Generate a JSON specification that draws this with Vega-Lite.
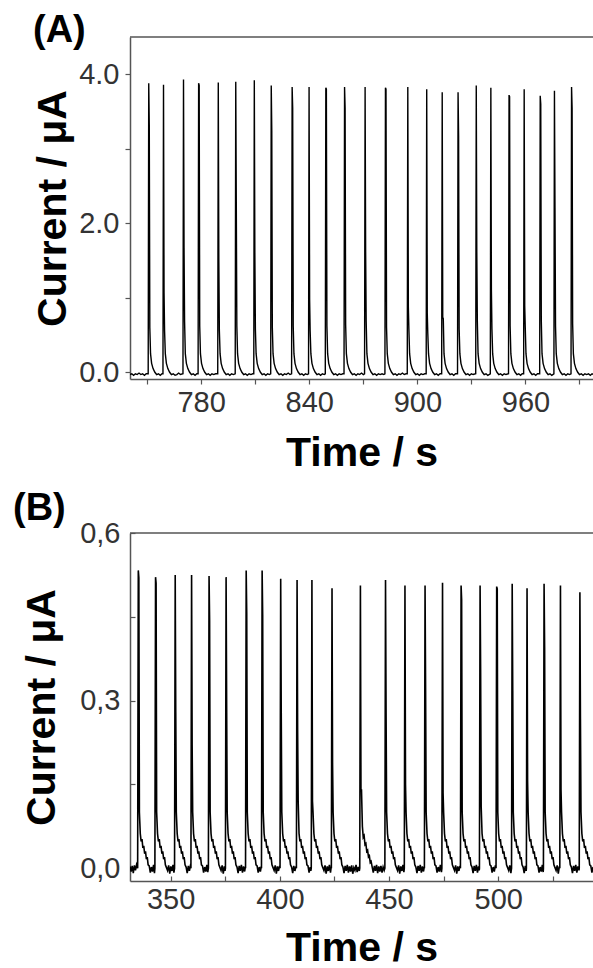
{
  "$schema": "https://vega.github.io/schema/vega-lite/v6.json",
  "padding": {"left": 13, "top": 12, "right": 0, "bottom": 2},
  "spacing": 17,
  "config": {
    "view": {"stroke": null},
    "font": "Liberation Sans",
    "axis": {
      "grid": false,
      "domainColor": "#555",
      "domainWidth": 1.5,
      "tickColor": "#555",
      "tickWidth": 1.2,
      "labelFont": "Liberation Sans",
      "labelFontSize": 29,
      "labelColor": "#333",
      "labelFlush": false,
      "labelOverlap": false,
      "titleFont": "Liberation Sans",
      "titleFontSize": 41,
      "titleFontWeight": "bold",
      "titleColor": "#000"
    },
    "title": {"font": "Liberation Sans", "fontSize": 38, "fontWeight": "bold", "color": "#000"}
  },
  "datasets": {
    "a": [
      {"t":740.6,"i":-0.03},{"t":741.5,"i":-0.02},{"t":742.5,"i":-0.04},{"t":743.5,"i":-0.02},{"t":744.5,"i":-0.03},{"t":745.5,"i":-0.01},{"t":746.5,"i":-0.03},{"t":747.5,"i":-0.02},{"t":748.5,"i":-0.04},{"t":749.5,"i":-0.02},{"t":750.6,"i":-0.02},
      {"t":750.9,"i":3.88},{"t":751.2,"i":3.32},{"t":751.5,"i":0.60},{"t":751.9,"i":0.25},{"t":752.5,"i":0.12},{"t":753.3,"i":0.05},{"t":754.3,"i":0.0},{"t":755.3,"i":-0.03},{"t":756.3,"i":-0.02},{"t":757.3,"i":-0.04},{"t":758.3,"i":-0.02},{"t":758.8,"i":-0.02},
      {"t":759.1,"i":3.86},{"t":759.4,"i":1.07},{"t":759.7,"i":0.55},{"t":760.1,"i":0.25},{"t":760.7,"i":0.12},{"t":761.5,"i":0.05},{"t":762.5,"i":0.0},{"t":763.5,"i":-0.03},{"t":764.5,"i":-0.02},{"t":765.5,"i":-0.04},{"t":766.5,"i":-0.03},{"t":767.5,"i":-0.01},{"t":768.5,"i":-0.03},{"t":769.9,"i":-0.02},
      {"t":770.2,"i":3.93},{"t":770.5,"i":1.67},{"t":770.8,"i":0.68},{"t":771.2,"i":0.25},{"t":771.8,"i":0.12},{"t":772.6,"i":0.05},{"t":773.6,"i":0.0},{"t":774.6,"i":-0.03},{"t":775.6,"i":-0.02},{"t":776.6,"i":-0.04},{"t":777.6,"i":-0.02},{"t":778.3,"i":-0.02},
      {"t":778.6,"i":3.88},{"t":778.9,"i":3.85},{"t":779.2,"i":0.62},{"t":779.6,"i":0.25},{"t":780.2,"i":0.12},{"t":781.0,"i":0.05},{"t":782.0,"i":0.0},{"t":783.0,"i":-0.03},{"t":784.0,"i":-0.02},{"t":785.0,"i":-0.04},{"t":786.0,"i":-0.02},{"t":787.0,"i":-0.03},{"t":788.0,"i":-0.02},{"t":789.2,"i":-0.02},
      {"t":789.5,"i":3.89},{"t":789.8,"i":1.52},{"t":790.1,"i":0.56},{"t":790.5,"i":0.25},{"t":791.1,"i":0.12},{"t":791.9,"i":0.05},{"t":792.9,"i":0.0},{"t":793.9,"i":-0.03},{"t":794.9,"i":-0.02},{"t":795.9,"i":-0.04},{"t":796.9,"i":-0.02},{"t":797.9,"i":-0.03},{"t":798.9,"i":-0.02},
      {"t":799.2,"i":3.90},{"t":799.5,"i":2.28},{"t":799.8,"i":0.62},{"t":800.2,"i":0.25},{"t":800.8,"i":0.12},{"t":801.6,"i":0.05},{"t":802.6,"i":0.0},{"t":803.6,"i":-0.03},{"t":804.6,"i":-0.02},{"t":805.6,"i":-0.04},{"t":806.6,"i":-0.02},{"t":807.6,"i":-0.03},{"t":808.6,"i":-0.02},{"t":809.2,"i":-0.02},
      {"t":809.5,"i":3.92},{"t":809.8,"i":1.60},{"t":810.1,"i":0.58},{"t":810.5,"i":0.25},{"t":811.1,"i":0.12},{"t":811.9,"i":0.05},{"t":812.9,"i":0.0},{"t":813.9,"i":-0.03},{"t":814.9,"i":-0.02},{"t":815.9,"i":-0.04},{"t":816.9,"i":-0.02},{"t":817.9,"i":-0.03},{"t":818.6,"i":-0.02},
      {"t":818.9,"i":3.85},{"t":819.2,"i":3.24},{"t":819.5,"i":0.60},{"t":819.9,"i":0.25},{"t":820.5,"i":0.12},{"t":821.3,"i":0.05},{"t":822.3,"i":0.0},{"t":823.3,"i":-0.03},{"t":824.3,"i":-0.02},{"t":825.3,"i":-0.04},{"t":826.3,"i":-0.02},{"t":827.3,"i":-0.03},{"t":828.3,"i":-0.01},{"t":829.3,"i":-0.03},{"t":830.2,"i":-0.02},
      {"t":830.5,"i":3.83},{"t":830.8,"i":3.55},{"t":831.1,"i":0.62},{"t":831.5,"i":0.25},{"t":832.1,"i":0.12},{"t":832.9,"i":0.05},{"t":833.9,"i":0.0},{"t":834.9,"i":-0.03},{"t":835.9,"i":-0.02},{"t":836.9,"i":-0.04},{"t":837.9,"i":-0.02},{"t":838.9,"i":-0.03},{"t":839.6,"i":-0.02},
      {"t":839.9,"i":3.83},{"t":840.2,"i":0.98},{"t":840.5,"i":0.55},{"t":840.9,"i":0.25},{"t":841.5,"i":0.12},{"t":842.3,"i":0.05},{"t":843.3,"i":0.0},{"t":844.3,"i":-0.03},{"t":845.3,"i":-0.02},{"t":846.3,"i":-0.04},{"t":847.3,"i":-0.02},{"t":848.3,"i":-0.03},{"t":848.9,"i":-0.02},
      {"t":849.2,"i":3.82},{"t":849.5,"i":3.80},{"t":849.8,"i":0.62},{"t":850.2,"i":0.25},{"t":850.8,"i":0.12},{"t":851.6,"i":0.05},{"t":852.6,"i":0.0},{"t":853.6,"i":-0.03},{"t":854.6,"i":-0.02},{"t":855.6,"i":-0.04},{"t":856.6,"i":-0.02},{"t":857.6,"i":-0.03},{"t":858.6,"i":-0.02},{"t":859.3,"i":-0.02},
      {"t":859.6,"i":3.83},{"t":859.9,"i":3.55},{"t":860.2,"i":0.64},{"t":860.6,"i":0.25},{"t":861.2,"i":0.12},{"t":862.0,"i":0.05},{"t":863.0,"i":0.0},{"t":864.0,"i":-0.03},{"t":865.0,"i":-0.02},{"t":866.0,"i":-0.04},{"t":867.0,"i":-0.02},{"t":868.0,"i":-0.03},{"t":869.0,"i":-0.01},{"t":870.0,"i":-0.03},{"t":870.7,"i":-0.02},
      {"t":871.0,"i":3.83},{"t":871.3,"i":1.61},{"t":871.6,"i":0.68},{"t":872.0,"i":0.25},{"t":872.6,"i":0.12},{"t":873.4,"i":0.05},{"t":874.4,"i":0.0},{"t":875.4,"i":-0.03},{"t":876.4,"i":-0.02},{"t":877.4,"i":-0.04},{"t":878.4,"i":-0.02},{"t":879.4,"i":-0.03},{"t":880.4,"i":-0.02},{"t":881.4,"i":-0.03},{"t":882.0,"i":-0.02},
      {"t":882.3,"i":3.82},{"t":882.6,"i":3.80},{"t":882.9,"i":0.60},{"t":883.3,"i":0.25},{"t":883.9,"i":0.12},{"t":884.7,"i":0.05},{"t":885.7,"i":0.0},{"t":886.7,"i":-0.03},{"t":887.7,"i":-0.02},{"t":888.7,"i":-0.04},{"t":889.7,"i":-0.02},{"t":890.7,"i":-0.03},{"t":891.7,"i":-0.01},{"t":892.7,"i":-0.03},{"t":893.7,"i":-0.02},{"t":894.4,"i":-0.02},
      {"t":894.7,"i":3.83},{"t":895.0,"i":0.88},{"t":895.3,"i":0.58},{"t":895.7,"i":0.25},{"t":896.3,"i":0.12},{"t":897.1,"i":0.05},{"t":898.1,"i":0.0},{"t":899.1,"i":-0.03},{"t":900.1,"i":-0.02},{"t":901.1,"i":-0.04},{"t":902.1,"i":-0.02},{"t":903.1,"i":-0.03},{"t":904.1,"i":-0.02},{"t":904.9,"i":-0.02},
      {"t":905.2,"i":3.80},{"t":905.5,"i":0.80},{"t":905.8,"i":0.52},{"t":906.2,"i":0.25},{"t":906.8,"i":0.12},{"t":907.6,"i":0.05},{"t":908.6,"i":0.0},{"t":909.6,"i":-0.03},{"t":910.6,"i":-0.02},{"t":911.6,"i":-0.04},{"t":912.6,"i":-0.02},{"t":913.5,"i":-0.02},
      {"t":913.8,"i":3.76},{"t":914.1,"i":0.74},{"t":914.4,"i":0.72},{"t":914.8,"i":0.25},{"t":915.4,"i":0.12},{"t":916.2,"i":0.05},{"t":917.2,"i":0.0},{"t":918.2,"i":-0.03},{"t":919.2,"i":-0.02},{"t":920.2,"i":-0.04},{"t":921.2,"i":-0.02},{"t":922.3,"i":-0.02},
      {"t":922.6,"i":3.76},{"t":922.9,"i":3.17},{"t":923.2,"i":0.58},{"t":923.6,"i":0.25},{"t":924.2,"i":0.12},{"t":925.0,"i":0.05},{"t":926.0,"i":0.0},{"t":927.0,"i":-0.03},{"t":928.0,"i":-0.02},{"t":929.0,"i":-0.04},{"t":930.0,"i":-0.02},{"t":931.0,"i":-0.03},{"t":932.4,"i":-0.02},
      {"t":932.7,"i":3.85},{"t":933.0,"i":1.61},{"t":933.3,"i":0.68},{"t":933.7,"i":0.25},{"t":934.3,"i":0.12},{"t":935.1,"i":0.05},{"t":936.1,"i":0.0},{"t":937.1,"i":-0.03},{"t":938.1,"i":-0.02},{"t":939.1,"i":-0.04},{"t":940.5,"i":-0.02},
      {"t":940.8,"i":3.82},{"t":941.1,"i":1.11},{"t":941.4,"i":0.58},{"t":941.8,"i":0.25},{"t":942.4,"i":0.12},{"t":943.2,"i":0.05},{"t":944.2,"i":0.0},{"t":945.2,"i":-0.03},{"t":946.2,"i":-0.02},{"t":947.2,"i":-0.04},{"t":948.2,"i":-0.02},{"t":949.2,"i":-0.03},{"t":950.6,"i":-0.02},
      {"t":950.9,"i":3.72},{"t":951.2,"i":3.70},{"t":951.5,"i":0.62},{"t":951.9,"i":0.25},{"t":952.5,"i":0.12},{"t":953.3,"i":0.05},{"t":954.3,"i":0.0},{"t":955.3,"i":-0.03},{"t":956.3,"i":-0.02},{"t":957.3,"i":-0.04},{"t":958.2,"i":-0.02},{"t":959.0,"i":-0.02},
      {"t":959.3,"i":3.80},{"t":959.6,"i":0.89},{"t":959.9,"i":0.60},{"t":960.3,"i":0.25},{"t":960.9,"i":0.12},{"t":961.7,"i":0.05},{"t":962.7,"i":0.0},{"t":963.7,"i":-0.03},{"t":964.7,"i":-0.02},{"t":965.7,"i":-0.04},{"t":966.7,"i":-0.02},{"t":967.9,"i":-0.02},
      {"t":968.2,"i":3.71},{"t":968.5,"i":3.60},{"t":968.8,"i":0.70},{"t":969.2,"i":0.25},{"t":969.8,"i":0.12},{"t":970.6,"i":0.05},{"t":971.6,"i":0.0},{"t":972.6,"i":-0.03},{"t":973.6,"i":-0.02},{"t":974.6,"i":-0.04},{"t":975.8,"i":-0.02},
      {"t":976.1,"i":3.78},{"t":976.4,"i":2.21},{"t":976.7,"i":0.62},{"t":977.1,"i":0.25},{"t":977.7,"i":0.12},{"t":978.5,"i":0.05},{"t":979.5,"i":0.0},{"t":980.5,"i":-0.03},{"t":981.5,"i":-0.02},{"t":982.5,"i":-0.04},{"t":983.5,"i":-0.02},{"t":984.5,"i":-0.03},{"t":985.3,"i":-0.02},
      {"t":985.6,"i":3.83},{"t":985.9,"i":3.55},{"t":986.2,"i":0.65},{"t":986.6,"i":0.25},{"t":987.2,"i":0.12},{"t":988.0,"i":0.05},{"t":989.0,"i":0.0},{"t":990.0,"i":-0.03},{"t":991.0,"i":-0.02},{"t":992.0,"i":-0.04},{"t":993.0,"i":-0.02},{"t":994.0,"i":-0.03},{"t":995.0,"i":-0.02},{"t":996.0,"i":-0.04},{"t":997.0,"i":-0.02},{"t":998.0,"i":-0.03}
    ],
    "b": [
      {"t":331.4,"i":0.003},{"t":331.9,"i":-0.006},{"t":332.4,"i":0.004},{"t":332.9,"i":-0.009},{"t":333.4,"i":0.005},{"t":333.9,"i":-0.004},{"t":334.4,"i":0.006},
      {"t":334.9,"i":0},{"t":335.2,"i":0.533},{"t":335.45,"i":0.52},{"t":335.7,"i":0.10},{"t":336.1,"i":0.062},{"t":336.5,"i":0.048},{"t":336.9,"i":0.052},{"t":337.3,"i":0.036},{"t":337.7,"i":0.040},{"t":338.1,"i":0.026},{"t":338.5,"i":0.030},{"t":338.9,"i":0.016},{"t":339.3,"i":0.020},{"t":339.7,"i":0.006},{"t":340.2,"i":0.004},{"t":340.7,"i":-0.008},{"t":341.2,"i":0.002},{"t":341.7,"i":-0.006},{"t":342.2,"i":0.006},{"t":342.6,"i":-0.009},
      {"t":342.8,"i":0},{"t":343.1,"i":0.521},{"t":343.35,"i":0.51},{"t":343.6,"i":0.10},{"t":344.0,"i":0.062},{"t":344.4,"i":0.048},{"t":344.8,"i":0.052},{"t":345.2,"i":0.036},{"t":345.6,"i":0.040},{"t":346.0,"i":0.026},{"t":346.4,"i":0.030},{"t":346.8,"i":0.016},{"t":347.2,"i":0.020},{"t":347.6,"i":0.006},{"t":348.1,"i":0.001},{"t":348.6,"i":-0.004},{"t":349.1,"i":0.005},{"t":349.6,"i":-0.010},{"t":350.1,"i":0.003},{"t":350.6,"i":-0.005},{"t":351.1,"i":0.006},{"t":351.5,"i":-0.008},
      {"t":351.8,"i":0},{"t":352.1,"i":0.525},{"t":352.35,"i":0.279},{"t":352.6,"i":0.10},{"t":353.0,"i":0.062},{"t":353.4,"i":0.048},{"t":353.8,"i":0.052},{"t":354.2,"i":0.036},{"t":354.6,"i":0.040},{"t":355.0,"i":0.026},{"t":355.4,"i":0.030},{"t":355.8,"i":0.016},{"t":356.2,"i":0.020},{"t":356.6,"i":0.006},{"t":357.1,"i":0.002},{"t":357.6,"i":-0.009},{"t":358.1,"i":0.004},{"t":358.6,"i":-0.005},{"t":359.0,"i":0.003},
      {"t":359.3,"i":0},{"t":359.6,"i":0.525},{"t":359.85,"i":0.222},{"t":360.1,"i":0.10},{"t":360.5,"i":0.062},{"t":360.9,"i":0.048},{"t":361.3,"i":0.052},{"t":361.7,"i":0.036},{"t":362.1,"i":0.040},{"t":362.5,"i":0.026},{"t":362.9,"i":0.030},{"t":363.3,"i":0.016},{"t":363.7,"i":0.020},{"t":364.1,"i":0.006},{"t":364.6,"i":0.004},{"t":365.1,"i":-0.008},{"t":365.6,"i":0.002},{"t":366.1,"i":-0.006},{"t":366.6,"i":0.006},{"t":367.0,"i":-0.007},
      {"t":367.3,"i":0},{"t":367.6,"i":0.523},{"t":367.85,"i":0.443},{"t":368.1,"i":0.10},{"t":368.5,"i":0.062},{"t":368.9,"i":0.048},{"t":369.3,"i":0.052},{"t":369.7,"i":0.036},{"t":370.1,"i":0.040},{"t":370.5,"i":0.026},{"t":370.9,"i":0.030},{"t":371.3,"i":0.016},{"t":371.7,"i":0.020},{"t":372.1,"i":0.006},{"t":372.6,"i":0.001},{"t":373.1,"i":-0.004},{"t":373.6,"i":0.005},{"t":374.1,"i":-0.010},{"t":374.6,"i":0.003},{"t":374.9,"i":-0.005},
      {"t":375.1,"i":0},{"t":375.4,"i":0.521},{"t":375.65,"i":0.294},{"t":375.9,"i":0.10},{"t":376.3,"i":0.062},{"t":376.7,"i":0.048},{"t":377.1,"i":0.052},{"t":377.5,"i":0.036},{"t":377.9,"i":0.040},{"t":378.3,"i":0.026},{"t":378.7,"i":0.030},{"t":379.1,"i":0.016},{"t":379.5,"i":0.020},{"t":379.9,"i":0.006},{"t":380.4,"i":0.002},{"t":380.9,"i":-0.009},{"t":381.4,"i":0.004},{"t":381.9,"i":-0.005},{"t":382.4,"i":0.006},{"t":382.9,"i":-0.008},{"t":383.4,"i":0.003},{"t":383.9,"i":-0.006},{"t":384.2,"i":0.002},
      {"t":384.3,"i":0},{"t":384.6,"i":0.533},{"t":384.85,"i":0.455},{"t":385.1,"i":0.10},{"t":385.5,"i":0.062},{"t":385.9,"i":0.048},{"t":386.3,"i":0.052},{"t":386.7,"i":0.036},{"t":387.1,"i":0.040},{"t":387.5,"i":0.026},{"t":387.9,"i":0.030},{"t":388.3,"i":0.016},{"t":388.7,"i":0.020},{"t":389.1,"i":0.006},{"t":389.6,"i":0.004},{"t":390.1,"i":-0.008},{"t":390.6,"i":0.002},{"t":391.1,"i":-0.006},{"t":391.5,"i":0.003},
      {"t":391.6,"i":0},{"t":391.9,"i":0.533},{"t":392.15,"i":0.453},{"t":392.4,"i":0.10},{"t":392.8,"i":0.062},{"t":393.2,"i":0.048},{"t":393.6,"i":0.052},{"t":394.0,"i":0.036},{"t":394.4,"i":0.040},{"t":394.8,"i":0.026},{"t":395.2,"i":0.030},{"t":395.6,"i":0.016},{"t":396.0,"i":0.020},{"t":396.4,"i":0.006},{"t":396.9,"i":0.001},{"t":397.4,"i":-0.004},{"t":397.9,"i":0.005},{"t":398.4,"i":-0.010},{"t":398.9,"i":0.003},{"t":399.4,"i":-0.005},{"t":399.9,"i":0.004},
      {"t":400.1,"i":0},{"t":400.4,"i":0.518},{"t":400.65,"i":0.279},{"t":400.9,"i":0.10},{"t":401.3,"i":0.062},{"t":401.7,"i":0.048},{"t":402.1,"i":0.052},{"t":402.5,"i":0.036},{"t":402.9,"i":0.040},{"t":403.3,"i":0.026},{"t":403.7,"i":0.030},{"t":404.1,"i":0.016},{"t":404.5,"i":0.020},{"t":404.9,"i":0.006},{"t":405.4,"i":0.002},{"t":405.9,"i":-0.009},{"t":406.4,"i":0.004},{"t":406.9,"i":-0.005},{"t":407.4,"i":0.003},
      {"t":407.6,"i":0},{"t":407.9,"i":0.516},{"t":408.15,"i":0.249},{"t":408.4,"i":0.12},{"t":408.8,"i":0.062},{"t":409.2,"i":0.048},{"t":409.6,"i":0.052},{"t":410.0,"i":0.036},{"t":410.4,"i":0.040},{"t":410.8,"i":0.026},{"t":411.2,"i":0.030},{"t":411.6,"i":0.016},{"t":412.0,"i":0.020},{"t":412.4,"i":0.006},{"t":412.9,"i":0.004},{"t":413.4,"i":-0.008},{"t":413.9,"i":0.002},{"t":414.2,"i":-0.005},
      {"t":414.4,"i":0},{"t":414.7,"i":0.516},{"t":414.95,"i":0.12},{"t":415.2,"i":0.10},{"t":415.6,"i":0.062},{"t":416.0,"i":0.048},{"t":416.4,"i":0.052},{"t":416.8,"i":0.036},{"t":417.2,"i":0.040},{"t":417.6,"i":0.026},{"t":418.0,"i":0.030},{"t":418.4,"i":0.016},{"t":418.8,"i":0.020},{"t":419.2,"i":0.006},{"t":419.7,"i":0.001},{"t":420.2,"i":-0.004},{"t":420.7,"i":0.005},{"t":421.2,"i":-0.010},{"t":421.7,"i":0.003},{"t":422.2,"i":-0.005},{"t":422.7,"i":0.006},{"t":423.2,"i":-0.008},{"t":423.5,"i":0.002},
      {"t":423.6,"i":0},{"t":423.9,"i":0.501},{"t":424.15,"i":0.186},{"t":424.4,"i":0.10},{"t":424.8,"i":0.062},{"t":425.2,"i":0.048},{"t":425.6,"i":0.052},{"t":426.0,"i":0.036},{"t":426.4,"i":0.040},{"t":426.8,"i":0.026},{"t":427.2,"i":0.030},{"t":427.6,"i":0.016},{"t":428.0,"i":0.020},{"t":428.4,"i":0.006},{"t":428.9,"i":0.002},{"t":429.4,"i":-0.009},{"t":429.9,"i":0.004},{"t":430.4,"i":-0.005},{"t":430.9,"i":0.006},{"t":431.4,"i":-0.008},{"t":431.9,"i":0.003},{"t":432.4,"i":-0.006},{"t":432.9,"i":0.005},{"t":433.4,"i":-0.010},{"t":433.9,"i":0.001},{"t":434.4,"i":-0.004},{"t":434.9,"i":0.006},{"t":435.4,"i":-0.007},{"t":435.9,"i":0.002},{"t":436.4,"i":-0.005},
      {"t":436.6,"i":0},{"t":436.9,"i":0.506},{"t":437.15,"i":0.14},{"t":437.4,"i":0.14},{"t":437.8,"i":0.075},{"t":438.2,"i":0.055},{"t":438.6,"i":0.058},{"t":439.0,"i":0.042},{"t":439.4,"i":0.044},{"t":439.8,"i":0.030},{"t":440.2,"i":0.032},{"t":440.6,"i":0.020},{"t":441.0,"i":0.022},{"t":441.4,"i":0.010},{"t":441.8,"i":0.012},{"t":442.3,"i":0.002},{"t":442.8,"i":-0.008},{"t":443.3,"i":0.004},{"t":443.8,"i":-0.005},{"t":444.3,"i":0.006},{"t":444.8,"i":-0.009},{"t":445.3,"i":0.003},{"t":445.8,"i":-0.006},{"t":446.3,"i":0.004},{"t":446.8,"i":-0.008},{"t":447.3,"i":0.002},{"t":447.8,"i":-0.004},
      {"t":448.1,"i":0},{"t":448.4,"i":0.516},{"t":448.65,"i":0.279},{"t":448.9,"i":0.10},{"t":449.3,"i":0.062},{"t":449.7,"i":0.048},{"t":450.1,"i":0.052},{"t":450.5,"i":0.036},{"t":450.9,"i":0.040},{"t":451.3,"i":0.026},{"t":451.7,"i":0.030},{"t":452.1,"i":0.016},{"t":452.5,"i":0.020},{"t":452.9,"i":0.006},{"t":453.4,"i":0.001},{"t":453.9,"i":-0.004},{"t":454.4,"i":0.005},{"t":454.9,"i":-0.010},{"t":455.4,"i":0.003},{"t":455.9,"i":-0.005},{"t":456.4,"i":0.006},{"t":456.8,"i":-0.007},
      {"t":457.0,"i":0},{"t":457.3,"i":0.506},{"t":457.55,"i":0.15},{"t":457.8,"i":0.10},{"t":458.2,"i":0.062},{"t":458.6,"i":0.048},{"t":459.0,"i":0.052},{"t":459.4,"i":0.036},{"t":459.8,"i":0.040},{"t":460.2,"i":0.026},{"t":460.6,"i":0.030},{"t":461.0,"i":0.016},{"t":461.4,"i":0.020},{"t":461.8,"i":0.006},{"t":462.3,"i":0.002},{"t":462.8,"i":-0.009},{"t":463.3,"i":0.004},{"t":463.8,"i":-0.005},{"t":464.3,"i":0.006},{"t":464.8,"i":-0.008},{"t":465.3,"i":0.003},{"t":465.8,"i":-0.006},{"t":466.1,"i":0.002},
      {"t":466.2,"i":0},{"t":466.5,"i":0.506},{"t":466.75,"i":0.318},{"t":467.0,"i":0.10},{"t":467.4,"i":0.062},{"t":467.8,"i":0.048},{"t":468.2,"i":0.052},{"t":468.6,"i":0.036},{"t":469.0,"i":0.040},{"t":469.4,"i":0.026},{"t":469.8,"i":0.030},{"t":470.2,"i":0.016},{"t":470.6,"i":0.020},{"t":471.0,"i":0.006},{"t":471.5,"i":0.004},{"t":472.0,"i":-0.008},{"t":472.5,"i":0.002},{"t":473.0,"i":-0.006},{"t":473.5,"i":0.006},{"t":474.0,"i":-0.007},
      {"t":474.2,"i":0},{"t":474.5,"i":0.511},{"t":474.75,"i":0.135},{"t":475.0,"i":0.10},{"t":475.4,"i":0.062},{"t":475.8,"i":0.048},{"t":476.2,"i":0.052},{"t":476.6,"i":0.036},{"t":477.0,"i":0.040},{"t":477.4,"i":0.026},{"t":477.8,"i":0.030},{"t":478.2,"i":0.016},{"t":478.6,"i":0.020},{"t":479.0,"i":0.006},{"t":479.5,"i":0.001},{"t":480.0,"i":-0.004},{"t":480.5,"i":0.005},{"t":481.0,"i":-0.010},{"t":481.5,"i":0.003},{"t":482.0,"i":-0.005},{"t":482.5,"i":0.004},
      {"t":482.7,"i":0},{"t":483.0,"i":0.506},{"t":483.25,"i":0.48},{"t":483.5,"i":0.10},{"t":483.9,"i":0.062},{"t":484.3,"i":0.048},{"t":484.7,"i":0.052},{"t":485.1,"i":0.036},{"t":485.5,"i":0.040},{"t":485.9,"i":0.026},{"t":486.3,"i":0.030},{"t":486.7,"i":0.016},{"t":487.1,"i":0.020},{"t":487.5,"i":0.006},{"t":488.0,"i":0.002},{"t":488.5,"i":-0.009},{"t":489.0,"i":0.004},{"t":489.5,"i":-0.005},{"t":490.0,"i":0.006},{"t":490.5,"i":-0.008},{"t":491.0,"i":0.003},{"t":491.3,"i":-0.004},
      {"t":491.4,"i":0},{"t":491.7,"i":0.506},{"t":491.95,"i":0.35},{"t":492.2,"i":0.11},{"t":492.6,"i":0.062},{"t":493.0,"i":0.048},{"t":493.4,"i":0.052},{"t":493.8,"i":0.036},{"t":494.2,"i":0.040},{"t":494.6,"i":0.026},{"t":495.0,"i":0.030},{"t":495.4,"i":0.016},{"t":495.8,"i":0.020},{"t":496.2,"i":0.006},{"t":496.7,"i":0.004},{"t":497.2,"i":-0.008},{"t":497.7,"i":0.002},{"t":498.2,"i":-0.006},{"t":498.7,"i":0.005},
      {"t":499.0,"i":0},{"t":499.3,"i":0.504},{"t":499.55,"i":0.50},{"t":499.8,"i":0.10},{"t":500.2,"i":0.062},{"t":500.6,"i":0.048},{"t":501.0,"i":0.052},{"t":501.4,"i":0.036},{"t":501.8,"i":0.040},{"t":502.2,"i":0.026},{"t":502.6,"i":0.030},{"t":503.0,"i":0.016},{"t":503.4,"i":0.020},{"t":503.8,"i":0.006},{"t":504.3,"i":0.001},{"t":504.8,"i":-0.004},{"t":505.3,"i":0.005},{"t":505.8,"i":-0.009},
      {"t":506.1,"i":0},{"t":506.4,"i":0.509},{"t":506.65,"i":0.318},{"t":506.9,"i":0.10},{"t":507.3,"i":0.062},{"t":507.7,"i":0.048},{"t":508.1,"i":0.052},{"t":508.5,"i":0.036},{"t":508.9,"i":0.040},{"t":509.3,"i":0.026},{"t":509.7,"i":0.030},{"t":510.1,"i":0.016},{"t":510.5,"i":0.020},{"t":510.9,"i":0.006},{"t":511.4,"i":0.002},{"t":511.9,"i":-0.009},{"t":512.4,"i":0.004},{"t":512.8,"i":-0.005},
      {"t":512.9,"i":0},{"t":513.2,"i":0.501},{"t":513.45,"i":0.156},{"t":513.7,"i":0.10},{"t":514.1,"i":0.062},{"t":514.5,"i":0.048},{"t":514.9,"i":0.052},{"t":515.3,"i":0.036},{"t":515.7,"i":0.040},{"t":516.1,"i":0.026},{"t":516.5,"i":0.030},{"t":516.9,"i":0.016},{"t":517.3,"i":0.020},{"t":517.7,"i":0.006},{"t":518.2,"i":0.004},{"t":518.7,"i":-0.008},{"t":519.2,"i":0.002},{"t":519.7,"i":-0.006},{"t":520.2,"i":0.006},{"t":520.6,"i":-0.007},
      {"t":520.7,"i":0},{"t":521.0,"i":0.509},{"t":521.25,"i":0.395},{"t":521.5,"i":0.10},{"t":521.9,"i":0.062},{"t":522.3,"i":0.048},{"t":522.7,"i":0.052},{"t":523.1,"i":0.036},{"t":523.5,"i":0.040},{"t":523.9,"i":0.026},{"t":524.3,"i":0.030},{"t":524.7,"i":0.016},{"t":525.1,"i":0.020},{"t":525.5,"i":0.006},{"t":526.0,"i":0.001},{"t":526.5,"i":-0.004},{"t":527.0,"i":0.005},{"t":527.5,"i":-0.010},{"t":528.0,"i":0.003},
      {"t":528.2,"i":0},{"t":528.5,"i":0.506},{"t":528.75,"i":0.141},{"t":529.0,"i":0.10},{"t":529.4,"i":0.062},{"t":529.8,"i":0.048},{"t":530.2,"i":0.052},{"t":530.6,"i":0.036},{"t":531.0,"i":0.040},{"t":531.4,"i":0.026},{"t":531.8,"i":0.030},{"t":532.2,"i":0.016},{"t":532.6,"i":0.020},{"t":533.0,"i":0.006},{"t":533.5,"i":0.002},{"t":534.0,"i":-0.009},{"t":534.5,"i":0.004},{"t":535.0,"i":-0.005},{"t":535.5,"i":0.006},{"t":536.0,"i":-0.008},{"t":536.5,"i":0.003},{"t":537.0,"i":-0.004},
      {"t":537.1,"i":0},{"t":537.4,"i":0.494},{"t":537.65,"i":0.267},{"t":537.9,"i":0.10},{"t":538.3,"i":0.062},{"t":538.7,"i":0.048},{"t":539.1,"i":0.052},{"t":539.5,"i":0.036},{"t":539.9,"i":0.040},{"t":540.3,"i":0.026},{"t":540.7,"i":0.030},{"t":541.1,"i":0.016},{"t":541.5,"i":0.020},{"t":541.9,"i":0.006},{"t":542.4,"i":0.004},{"t":542.9,"i":-0.008},{"t":543.4,"i":0.002},{"t":543.9,"i":-0.006}
    ]
  },
  "vconcat": [
    {
      "title": {"text": "(A)", "anchor": "start", "frame": "group", "dx": -97, "offset": -14},
      "width": 463,
      "height": 342,
      "layer": [
        {
          "data": {"name": "a"},
          "mark": {"type": "line", "clip": true, "color": "#000", "strokeWidth": 1.4},
          "encoding": {
            "x": {"field": "t", "type": "quantitative",
              "scale": {"domain": [740.5, 997.5], "nice": false, "zero": false},
              "axis": {"title": "Time / s", "values": [750, 780, 810, 840, 870, 900, 930, 960, 990],
                "labelExpr": "(datum.value - 780) % 60 === 0 ? datum.label : ''",
                "tickSize": 5, "labelPadding": 4, "titlePadding": 16}},
            "y": {"field": "i", "type": "quantitative",
              "scale": {"domain": [-0.09, 4.5], "nice": false, "zero": false},
              "axis": {"title": "Current / μA", "values": [0, 1, 2, 3, 4],
                "labelExpr": "datum.value % 2 === 0 ? format(datum.value, '.1f') : ''",
                "tickSize": 5, "labelPadding": 6, "titlePadding": 4}}
          }
        },
        {
          "data": {"values": [{}]},
          "mark": {"type": "rule", "color": "#555", "strokeWidth": 1.5},
          "encoding": {"y": {"datum": 4.5, "type": "quantitative"}}
        }
      ]
    },
    {
      "title": {"text": "(B)", "anchor": "start", "frame": "group", "dx": -117, "offset": -9},
      "width": 463,
      "height": 348,
      "layer": [
        {
          "data": {"name": "b"},
          "mark": {"type": "line", "clip": true, "color": "#000", "strokeWidth": 1.6},
          "encoding": {
            "x": {"field": "t", "type": "quantitative",
              "scale": {"domain": [331.4, 543.4], "nice": false, "zero": false},
              "axis": {"title": "Time / s", "values": [350, 375, 400, 425, 450, 475, 500, 525],
                "labelExpr": "datum.value % 50 === 0 ? datum.label : ''",
                "tickSize": -5, "labelPadding": 9, "titlePadding": 14}},
            "y": {"field": "i", "type": "quantitative",
              "scale": {"domain": [-0.023, 0.6], "nice": false, "zero": false},
              "axis": {"title": "Current / μA", "values": [0, 0.15, 0.3, 0.45, 0.6],
                "labelExpr": "(datum.value === 0 || datum.value === 0.3 || datum.value === 0.6) ? replace(format(datum.value, '.1f'), '.', ',') : ''",
                "tickSize": -5, "labelPadding": 15, "titlePadding": 16}}
          }
        },
        {
          "data": {"values": [{}]},
          "mark": {"type": "rule", "color": "#555", "strokeWidth": 1.5},
          "encoding": {"y": {"datum": 0.6, "type": "quantitative"}}
        }
      ]
    }
  ]
}
